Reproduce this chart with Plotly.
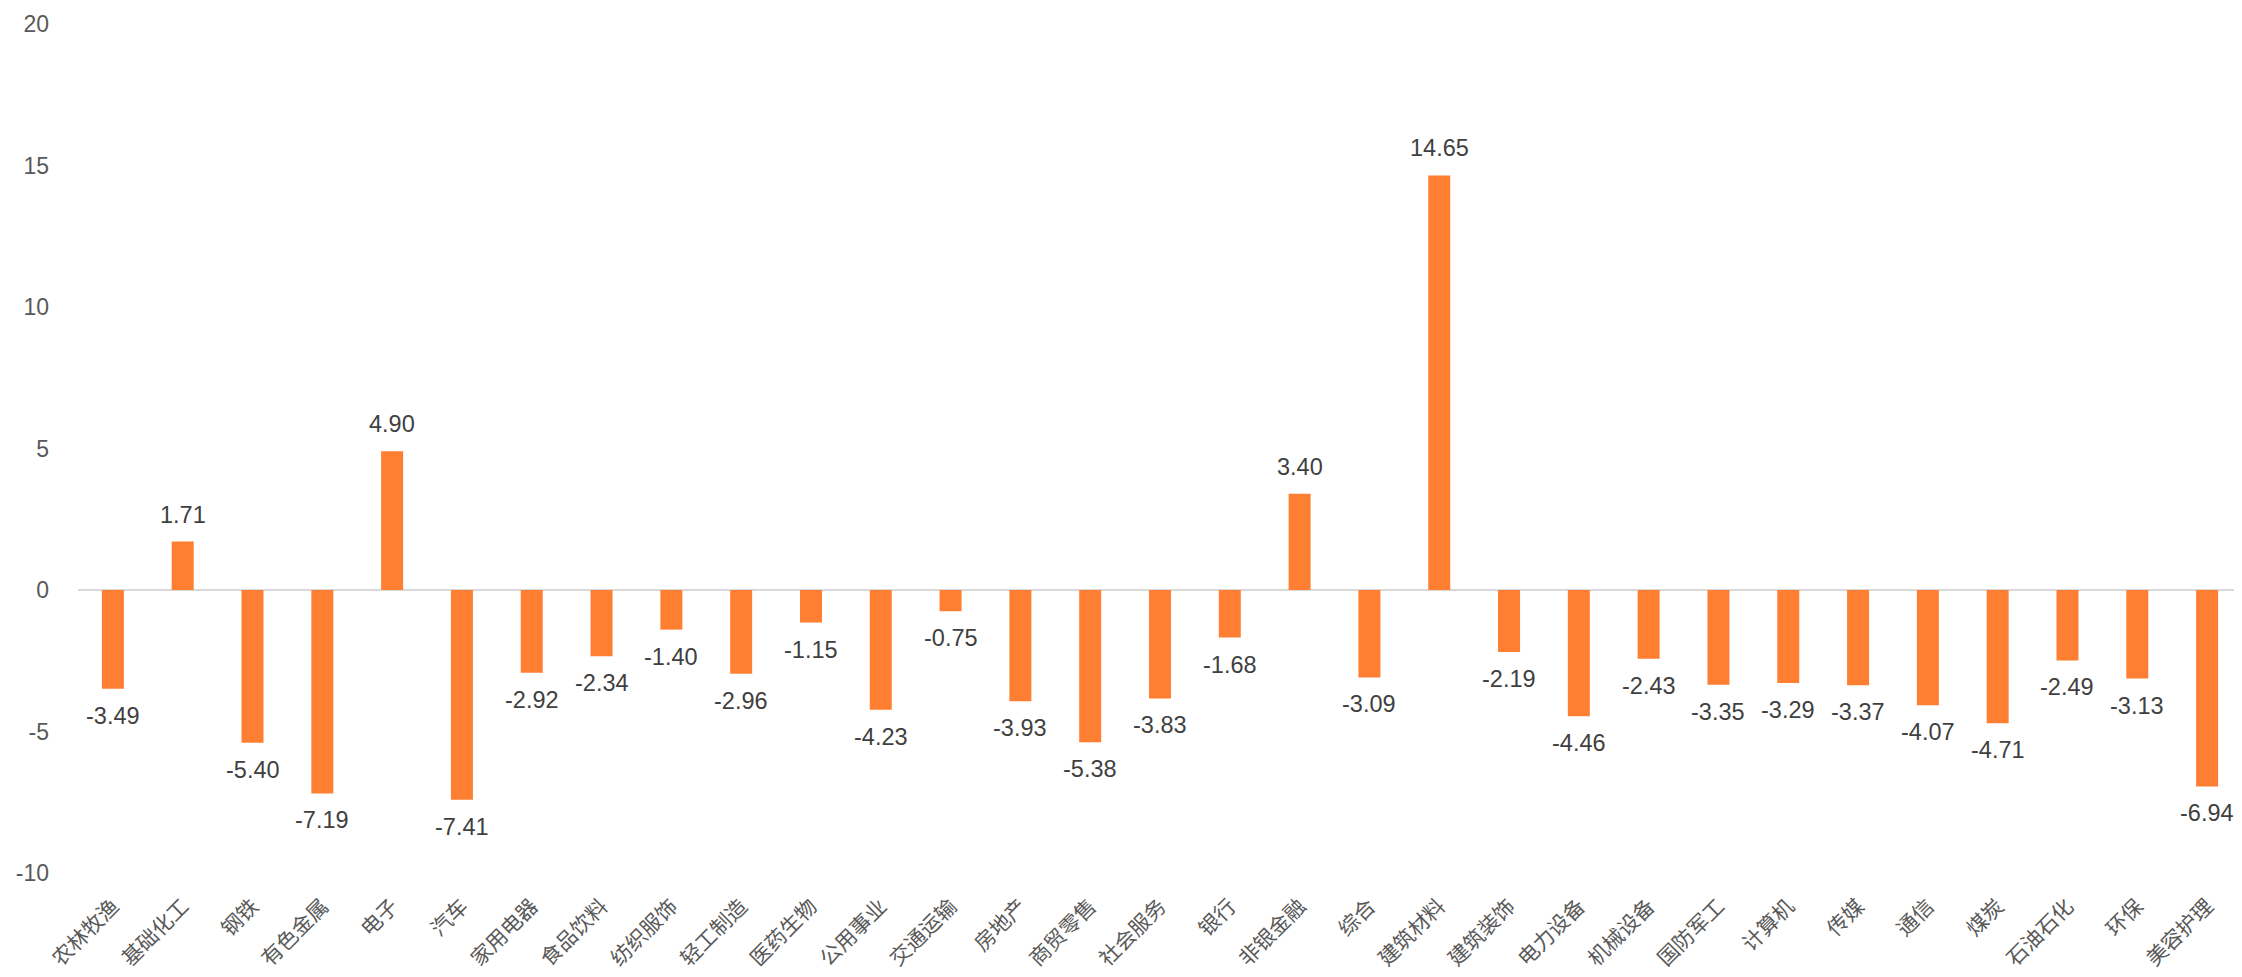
import plotly.graph_objects as go

categories = ["农林牧渔", "基础化工", "钢铁", "有色金属", "电子", "汽车", "家用电器", "食品饮料",
              "纺织服饰", "轻工制造", "医药生物", "公用事业", "交通运输", "房地产", "商贸零售",
              "社会服务", "银行", "非银金融", "综合", "建筑材料", "建筑装饰", "电力设备", "机械设备",
              "国防军工", "计算机", "传媒", "通信", "煤炭", "石油石化", "环保", "美容护理"]
values = [-3.49, 1.71, -5.40, -7.19, 4.90, -7.41, -2.92, -2.34,
          -1.40, -2.96, -1.15, -4.23, -0.75, -3.93, -5.38,
          -3.83, -1.68, 3.40, -3.09, 14.65, -2.19, -4.46, -2.43,
          -3.35, -3.29, -3.37, -4.07, -4.71, -2.49, -3.13, -6.94]
y_ticks = [-10, -5, 0, 5, 10, 15, 20]

FONT = "Liberation Sans, Arial, Noto Sans CJK SC, sans-serif"

fig = go.Figure()
fig.add_trace(go.Bar(
    x=categories, y=values,
    marker=dict(color="#FF7F32", line=dict(width=0)),
    width=0.315,
))

for c, v in zip(categories, values):
    fig.add_annotation(
        x=c, y=v, text=f"{v:.2f}", showarrow=False,
        xanchor="center", yanchor="middle",
        yshift=27 if v >= 0 else -27,
        font=dict(family=FONT, size=23.5, color="#404040"),
    )

# page body has an 8px margin, so the figure is sized to fill the window from (8, 8)
fig.update_layout(
    width=2234, height=969,
    margin=dict(l=70, r=0, t=16, b=104, autoexpand=False),
    paper_bgcolor="white", plot_bgcolor="white",
    showlegend=False,
    font=dict(family=FONT, size=23, color="#595959"),
    xaxis=dict(
        type="category", range=[-0.5, len(categories) - 0.5],
        tickangle=-45, showgrid=False, showline=False,
        ticks="", ticklabelstandoff=16,
        tickfont=dict(family="Noto Sans CJK SC, sans-serif", size=21, color="#595959"),
        automargin=False,
    ),
    yaxis=dict(
        range=[-10, 20], tickvals=y_ticks, ticktext=[str(t) for t in y_ticks],
        showgrid=False, showline=False,
        zeroline=True, zerolinecolor="#D9D9D9", zerolinewidth=2,
        ticks="", ticklabelstandoff=28,
        tickfont=dict(family=FONT, size=23, color="#595959"),
        automargin=False,
    ),
)

fig.write_html("out.html")
